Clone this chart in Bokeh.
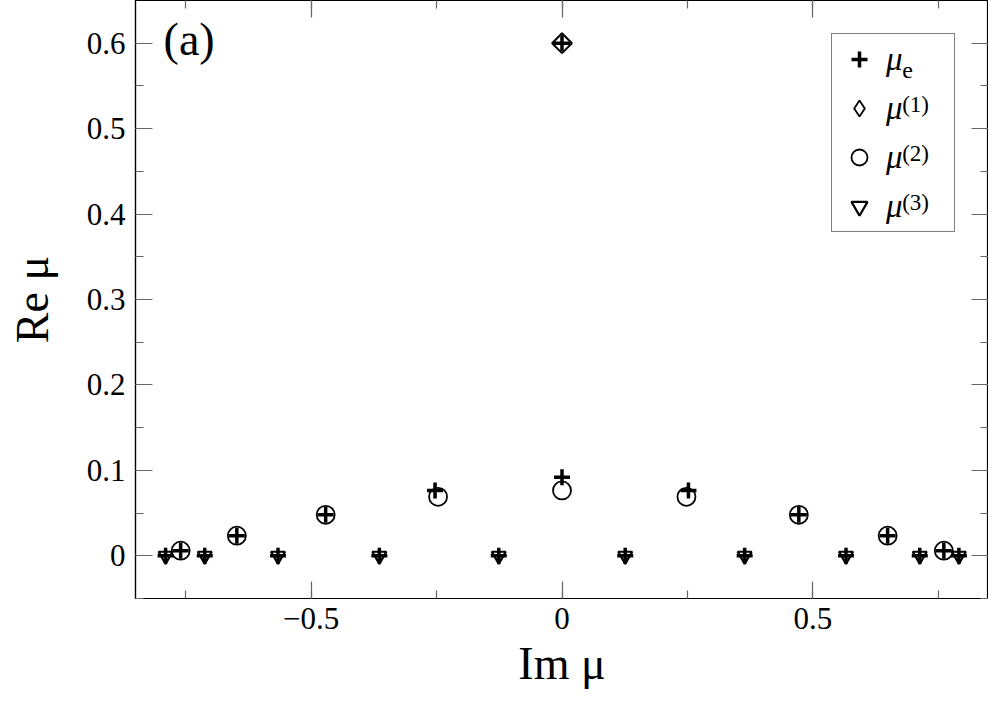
from bokeh.plotting import figure
from bokeh.models import (LinearAxis, SingleIntervalTicker, CustomJSTickFormatter,
                          Legend, LegendItem, Label)
from bokeh.embed import file_html
from bokeh.resources import INLINE
import math

# ---- data ----
mu_e_x = [-0.790, -0.760, -0.712, -0.648, -0.566, -0.471, -0.364, -0.253, -0.126, 0.0, 0.0,
          0.126, 0.252, 0.364, 0.472, 0.566, 0.649, 0.713, 0.761, 0.791]
mu_e_y = [0.0, 0.006, 0.0, 0.0235, 0.0, 0.048, 0.0, 0.0765, 0.0, 0.092, 0.600,
          0.0, 0.0765, 0.0, 0.048, 0.0, 0.0235, 0.0, 0.006, 0.0]

mu1_x = [0.0]
mu1_y = [0.600]

mu2_x = [-0.760, -0.648, -0.471, -0.247, 0.0, 0.248, 0.472, 0.649, 0.761]
mu2_y = [0.006, 0.0235, 0.048, 0.069, 0.0765, 0.069, 0.048, 0.0235, 0.006]

mu3_x = [-0.790, -0.712, -0.566, -0.364, -0.126, 0.126, 0.364, 0.566, 0.713, 0.791]
mu3_y = [0.0, 0.0, 0.0, 0.0, 0.0, 0.0, 0.0, 0.0, 0.0, 0.0]

legend_symbol = "μ"
legend_marks = ["e", "(1)", "(2)", "(3)"]
x_label = "Im μ"
y_label = "Re μ"
panel_label = "(a)"

FONT = "Liberation Serif"

p = figure(width=988, height=706, x_range=(-0.85, 0.85), y_range=(-0.05, 0.65),
           output_backend="svg", toolbar_location=None,
           min_border_left=135, min_border_right=0, min_border_top=0, min_border_bottom=108)
p.grid.visible = False
p.outline_line_color = "black"
p.outline_line_width = 1.2
p.background_fill_color = "white"

fmt = CustomJSTickFormatter(code="""
if (Math.abs(tick) < 1e-9) { return "0"; }
return tick.toFixed(1).replace("-", "\u2212");
""")
blank = CustomJSTickFormatter(code="return '';")

def style(ax, labels=True):
    ax.axis_line_color = "black"
    ax.axis_line_width = 1.2
    ax.major_tick_in = 17
    ax.major_tick_out = 0
    ax.minor_tick_in = 8
    ax.minor_tick_out = 0
    ax.major_tick_line_color = "#666666"
    ax.minor_tick_line_color = "#666666"
    ax.major_tick_line_width = 1.2
    ax.minor_tick_line_width = 1.2
    ax.major_label_text_font = FONT
    ax.major_label_text_color = "black"
    ax.axis_label_text_font = FONT
    ax.axis_label_text_font_style = "normal"
    ax.axis_label_text_color = "black"
    if labels:
        ax.major_label_text_font_size = "31px"
        ax.axis_label_text_font_size = "46px"
    else:
        ax.major_label_text_font_size = "0px"
        ax.major_label_standoff = 0

p.xaxis[0].ticker = SingleIntervalTicker(interval=0.5, num_minor_ticks=2)
p.xaxis[0].formatter = fmt
p.xaxis[0].axis_label = x_label
p.xaxis[0].major_label_standoff = 9
p.xaxis[0].axis_label_standoff = 6
style(p.xaxis[0])

p.yaxis[0].ticker = SingleIntervalTicker(interval=0.1, num_minor_ticks=2)
p.yaxis[0].formatter = fmt
p.yaxis[0].axis_label = y_label
p.yaxis[0].major_label_standoff = 10
p.yaxis[0].axis_label_standoff = 26
p.yaxis[0].major_label_orientation = "horizontal"
style(p.yaxis[0])

top = LinearAxis(ticker=SingleIntervalTicker(interval=0.5, num_minor_ticks=2), formatter=blank)
style(top, labels=False)
p.add_layout(top, "above")
right = LinearAxis(ticker=SingleIntervalTicker(interval=0.1, num_minor_ticks=2), formatter=blank)
style(right, labels=False)
p.add_layout(right, "right")

r3 = p.scatter(mu3_x, mu3_y, marker="inverted_triangle", size=14, fill_color=None,
               line_color="black", line_width=2.2)
r2 = p.scatter(mu2_x, mu2_y, marker="circle", size=18, fill_color=None,
               line_color="black", line_width=1.8)
r1 = p.scatter(mu1_x, mu1_y, marker="square", angle=math.pi / 4, size=14, fill_color=None,
               line_color="black", line_width=2.0)
# same series as a diamond marker (hidden in the plot), used for the legend swatch
r1_leg = p.scatter(mu1_x, mu1_y, marker="diamond", size=14, fill_color=None,
                   line_color="black", line_width=1.8, visible=False)
re = p.scatter(mu_e_x, mu_e_y, marker="cross", size=16, line_color="black", line_width=3.5)

legend = Legend(items=[LegendItem(label=legend_symbol, renderers=[re]),
                       LegendItem(label=legend_symbol, renderers=[r1_leg]),
                       LegendItem(label=legend_symbol, renderers=[r2]),
                       LegendItem(label=legend_symbol, renderers=[r3])],
                location="top_right", margin=33, padding=5, spacing=9,
                glyph_width=44, glyph_height=40, label_height=40, label_width=63,
                label_standoff=5,
                label_text_font=FONT, label_text_font_style="italic",
                label_text_font_size="33px", label_text_color="black",
                border_line_color="black", border_line_width=1,
                background_fill_alpha=0)
p.add_layout(legend)

# sub/superscripts of the legend entries
mark_x = 0.678
mark_y = [0.5676, 0.5288, 0.4712, 0.4135]
mark_size = ["24px", "23px", "23px", "23px"]
for txt, yy, fs in zip(legend_marks, mark_y, mark_size):
    p.add_layout(Label(x=mark_x, y=yy, text=txt, text_font=FONT, text_font_size=fs,
                       text_baseline="alphabetic", text_color="black"))

p.add_layout(Label(x=-0.794, y=0.604, text=panel_label, text_font=FONT,
                   text_font_size="46px", text_baseline="alphabetic", text_color="black"))

open("out.html", "w").write(file_html(p, INLINE))
